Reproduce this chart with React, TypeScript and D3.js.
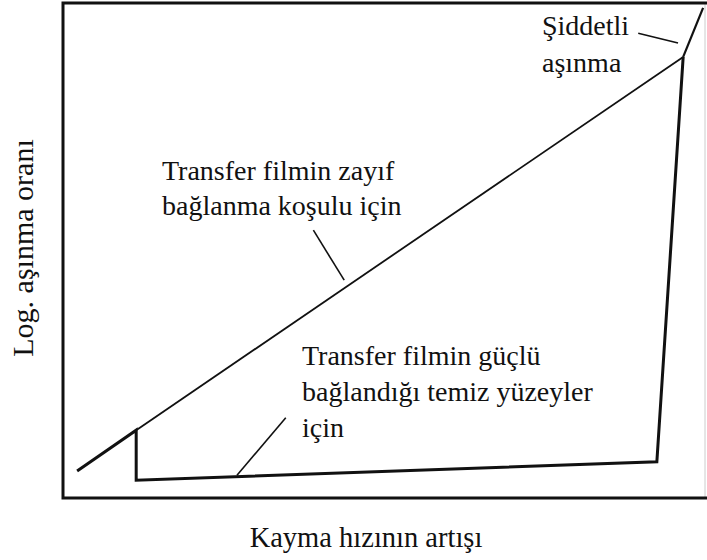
import React from "react";
import * as d3 from "d3";

// Normalised axes: sliding speed (0–100) and log wear rate (0–100), no ticks in the original
const xDomain = [0, 100];
const yDomain = [0, 100];

// Clean surfaces, strong transfer-film bonding (thick curve)
const strongSpeed = [2.2, 11.4, 11.4, 92.5, 96.6];
const strongWear = [5.45, 13.7, 3.6, 7.3, 89.1];

// Weak transfer-film bonding (thin straight line)
const weakSpeed = [11.4, 96.6];
const weakWear = [13.7, 89.1];

// Severe wear branch
const severeSpeed = [96.6, 99.7];
const severeWear = [89.1, 99.0];

// Leader lines [x1, y1, x2, y2] in data units
const leaderWeak = [39.0, 54.1, 43.8, 44.0];
const leaderStrong = [34.7, 16.2, 27.1, 4.6];
const leaderSevere = [89.6, 93.9, 95.8, 91.9];

// Texts
const weakLabel = ["Transfer filmin zayıf", "bağlanma koşulu için"];
const strongLabel = ["Transfer filmin güçlü", "bağlandığı temiz yüzeyler", "için"];
const severeLabel = ["Şiddetli", "aşınma"];
const xTitle = "Kayma hızının artışı";
const yTitle = "Log. aşınma oranı";

export default function App() {
  const W = 707;
  const H = 560;
  const left = 63, right = 705, top = 3, bottom = 498;
  const x = d3.scaleLinear().domain(xDomain).range([left, right]);
  const y = d3.scaleLinear().domain(yDomain).range([bottom, top]);
  const line = d3
    .line<[number, number]>()
    .x((d) => x(d[0]))
    .y((d) => y(d[1]));

  const zip = (a: number[], b: number[]) => a.map((v, i) => [v, b[i]] as [number, number]);
  const font = "'Liberation Serif', 'Times New Roman', serif";
  const ink = "#111";

  const leader = (l: number[], w: number) => (
    <line x1={x(l[0])} y1={y(l[1])} x2={x(l[2])} y2={y(l[3])} stroke={ink} strokeWidth={w} />
  );

  return (
    <svg
      width={W}
      height={H}
      style={{ position: "absolute", left: 0, top: 0, background: "#fff" }}
    >
      <rect x={0} y={0} width={W} height={H} fill="#fff" />
      {/* frame: left, top, bottom strong; right edge faint */}
      <line x1={right} y1={top} x2={right} y2={bottom} stroke="#ccc" strokeWidth={1} />
      <path
        d={`M${right + 2},${top}H${left}V${bottom}H${right + 2}`}
        fill="none"
        stroke={ink}
        strokeWidth={3}
      />
      {/* curves */}
      <path d={line(zip(weakSpeed, weakWear)) || ""} fill="none" stroke={ink} strokeWidth={1.8} />
      <path d={line(zip(severeSpeed, severeWear)) || ""} fill="none" stroke={ink} strokeWidth={2.2} />
      <path
        d={line(zip(strongSpeed, strongWear)) || ""}
        fill="none"
        stroke={ink}
        strokeWidth={3}
        strokeLinejoin="miter"
      />
      {/* leaders */}
      {leader(leaderWeak, 1.6)}
      {leader(leaderStrong, 1.6)}
      {leader(leaderSevere, 1.6)}
      {/* labels */}
      <g fontFamily={font} fontSize={28} fill={ink}>
        {weakLabel.map((t, i) => (
          <text key={"w" + i} x={162} y={180 + i * 35}>
            {t}
          </text>
        ))}
        {strongLabel.map((t, i) => (
          <text key={"s" + i} x={302} y={365 + i * 36}>
            {t}
          </text>
        ))}
        {severeLabel.map((t, i) => (
          <text key={"v" + i} x={542} y={35 + i * 37}>
            {t}
          </text>
        ))}
        <text x={366} y={547} textAnchor="middle" fontSize={28.5}>
          {xTitle}
        </text>
        <text
          transform={`translate(33,248) rotate(-90)`}
          textAnchor="middle"
          fontSize={30}
        >
          {yTitle}
        </text>
      </g>
    </svg>
  );
}
